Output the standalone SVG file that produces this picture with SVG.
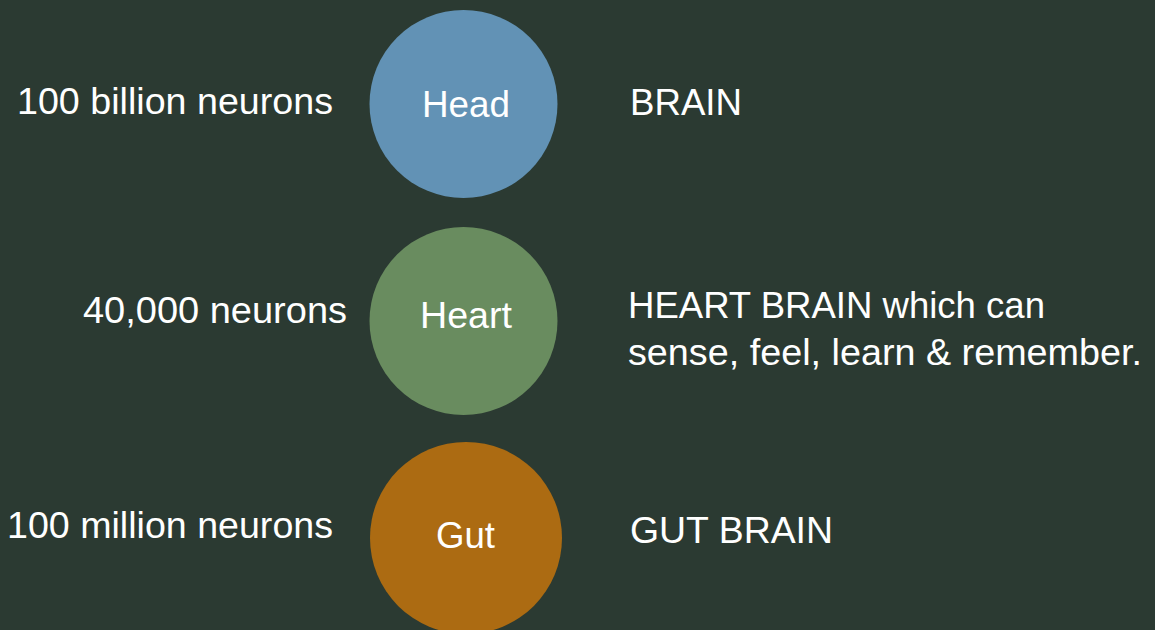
<svg xmlns="http://www.w3.org/2000/svg" width="1155" height="630" viewBox="0 0 1155 630">
<style>
.t{font-family:"Liberation Sans",Arial,sans-serif;font-size:36.5px;fill:#ffffff}
.c{text-anchor:middle}
</style>
<rect width="1155" height="630" fill="#2b3a32"/>
<g id="connectors"/>
<g id="head">
<circle cx="463.5" cy="104" r="94" fill="#6292b5"/>
<text class="t c" x="466" y="117" textLength="88" lengthAdjust="spacingAndGlyphs">Head</text>
</g>
<g id="heart">
<circle cx="463.5" cy="321" r="94" fill="#698c5f"/>
<text class="t c" x="466" y="328" textLength="92" lengthAdjust="spacingAndGlyphs">Heart</text>
</g>
<g id="gut">
<circle cx="466" cy="538" r="96" fill="#ac6b12"/>
<text class="t c" x="465.5" y="548" textLength="59" lengthAdjust="spacingAndGlyphs">Gut</text>
</g>
<g id="labels-left">
<text class="t" x="17" y="114" textLength="316" lengthAdjust="spacingAndGlyphs">100 billion neurons</text>
<text class="t" x="83" y="323" textLength="264" lengthAdjust="spacingAndGlyphs">40,000 neurons</text>
<text class="t" x="7" y="538" textLength="326" lengthAdjust="spacingAndGlyphs">100 million neurons</text>
</g>
<g id="labels-right">
<text class="t" x="630" y="115" textLength="112" lengthAdjust="spacingAndGlyphs">BRAIN</text>
<text class="t" x="628" y="318" textLength="417" lengthAdjust="spacingAndGlyphs">HEART BRAIN which can</text>
<text class="t" x="628" y="365" textLength="514" lengthAdjust="spacingAndGlyphs">sense, feel, learn &amp; remember.</text>
<text class="t" x="630" y="543" textLength="203" lengthAdjust="spacingAndGlyphs">GUT BRAIN</text>
</g>
</svg>
